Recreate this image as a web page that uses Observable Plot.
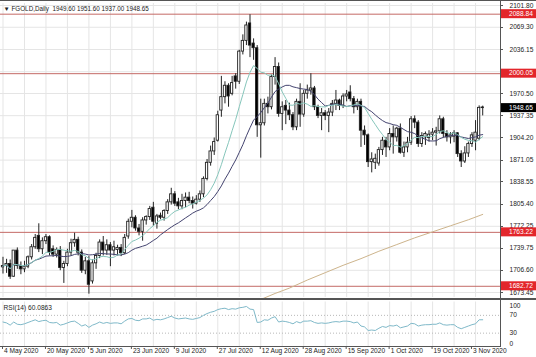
<!DOCTYPE html>
<html><head><meta charset="utf-8">
<script src="https://cdn.jsdelivr.net/npm/d3@7"></script>
<script src="https://cdn.jsdelivr.net/npm/@observablehq/plot@0.6"></script>
<style>
html,body{margin:0;padding:0;background:#fff;}
#chart{position:relative;width:536px;height:357px;overflow:hidden;background:#fff;}
#chart svg{position:absolute;left:0;}
.ln{position:absolute;background:#555;}
</style></head><body><div id="chart"></div>
<script>
// ---- data ----
const open  = [1711,1713,1716,1697,1736,1713,1708,1712,1726,1741,1758,1738,1750,1756,1738,1730,1737,1710,1716,1733,1747,1752,1733,1706,1720,1690,1717,1728,1748,1736,1744,1736,1737,1740,1732,1757,1779,1785,1769,1764,1781,1786,1800,1776,1788,1785,1795,1808,1820,1808,1802,1810,1815,1810,1806,1812,1820,1843,1867,1884,1900,1945,1965,1982,1970,1996,1988,2033,2049,2075,2045,2038,1923,1926,1955,1950,1995,2010,1940,1952,1945,1938,1920,1958,1939,1970,1975,1978,1950,1937,1941,1937,1942,1955,1960,1952,1966,1972,1962,1950,1958,1915,1908,1868,1867,1866,1886,1900,1890,1910,1905,1918,1882,1890,1897,1932,1927,1895,1905,1904,1909,1912,1914,1932,1910,1905,1906,1911,1880,1869,1881,1895,1900,1903,1949.60];
const high  = [1726,1723,1722,1735,1740,1719,1720,1728,1745,1760,1776,1755,1760,1758,1743,1740,1742,1720,1738,1753,1762,1756,1737,1726,1727,1722,1732,1752,1757,1752,1748,1750,1744,1745,1760,1783,1796,1788,1775,1785,1788,1802,1808,1790,1792,1797,1812,1829,1824,1814,1820,1822,1823,1816,1818,1825,1846,1872,1892,1904,1944,1996,1988,1985,1996,2000,2035,2058,2077,2088,2052,2042,1962,1962,1965,1998,2024,2016,1958,1960,1956,1942,1962,1985,1975,1983,2000,1981,1953,1948,1945,1948,1960,1975,1962,1970,1975,1982,1966,1962,1962,1922,1910,1882,1880,1890,1905,1905,1918,1922,1920,1925,1898,1905,1936,1937,1930,1912,1913,1915,1918,1920,1937,1935,1915,1912,1915,1912,1885,1891,1898,1912,1930,1952,1951.60];
const low   = [1701,1702,1693,1696,1708,1700,1703,1709,1722,1738,1733,1730,1745,1728,1726,1725,1706,1687,1712,1728,1741,1728,1702,1700,1671,1686,1708,1724,1728,1729,1712,1728,1728,1727,1730,1753,1770,1765,1758,1750,1774,1781,1772,1768,1782,1780,1790,1804,1802,1797,1797,1800,1806,1798,1804,1808,1815,1840,1862,1878,1898,1935,1955,1950,1967,1977,1984,2028,2042,2024,2020,1905,1874,1922,1940,1946,1983,1935,1915,1924,1930,1915,1915,1920,1935,1962,1968,1945,1933,1915,1930,1912,1936,1945,1945,1948,1958,1958,1940,1945,1890,1893,1860,1852,1857,1862,1878,1875,1885,1880,1898,1880,1875,1882,1893,1918,1890,1890,1893,1898,1900,1892,1910,1904,1898,1895,1897,1875,1860,1866,1875,1890,1885,1900,1937.00];
const close = [1713,1716,1697,1736,1713,1708,1712,1726,1741,1755,1738,1750,1756,1733,1730,1737,1710,1716,1733,1747,1752,1733,1706,1720,1685,1717,1728,1748,1736,1744,1736,1741,1740,1732,1755,1779,1785,1769,1764,1781,1786,1798,1779,1787,1785,1795,1808,1820,1806,1802,1810,1815,1810,1806,1812,1820,1843,1867,1884,1898,1938,1965,1982,1966,1986,1988,2033,2049,2072,2042,2038,1923,1926,1955,1950,1995,2010,1940,1950,1945,1938,1920,1958,1939,1970,1975,1978,1950,1937,1941,1937,1942,1955,1960,1952,1966,1969,1962,1950,1958,1915,1908,1868,1872,1873,1886,1900,1890,1910,1905,1918,1882,1890,1897,1932,1927,1895,1907,1910,1909,1912,1914,1932,1910,1905,1908,1911,1880,1869,1881,1895,1908,1912,1949,1948.65];
const rsi14 = [55,53,48,55,50,49,51,54,57,60,56,58,59,54,53,54,48,50,53,56,57,52,46,49,43,48,51,55,52,54,52,53,53,51,57,62,63,59,58,62,62,64,59,61,60,62,65,68,64,62,63,64,62,61,63,65,70,74,77,79,83,85,86,83,85,84,87,88,90,84,83,54,55,60,59,64,67,55,57,56,54,51,56,53,57,57,58,54,52,53,52,53,55,56,55,57,57,56,53,55,46,44,36,37,36,41,45,43,47,46,48,42,44,46,52,51,46,48,49,49,50,50,53,49,48,49,49,43,40,43,46,49,51,60,60.0863];
const ma200Bars = [72,76,80,85,90,95,100,105,110,115,120,125,130,134];
const ma200Vals = [1663,1672,1680,1692,1703,1714,1724,1735,1745,1755,1764,1773,1782,1790];
const levels = [2088.84, 2000.05, 1763.22, 1682.72];
const priceTicks = [2101.80,2069.30,2036.15,2003.00,1970.50,1937.35,1904.20,1871.05,1838.55,1805.40,1772.25,1739.75,1706.60,1673.45];
const hiddenTicks = [2003.00]; // covered by a level box in the reference
const dateLabels = ["4 May 2020","20 May 2020","5 Jun 2020","23 Jun 2020","9 Jul 2020","27 Jul 2020","12 Aug 2020","28 Aug 2020","15 Sep 2020","1 Oct 2020","19 Oct 2020","3 Nov 2020"];
const rsiTicks = [100,70,30,0];
const rsiLevels = [70,30];
const header = ["\u25BC FGOLD,Daily  1949.60 1951.60 1937.00 1948.65"];
const rsiTitle = ["RSI(14) 60.0863"];
const lastPrice = 1948.65;

// ---- build tables ----
const days = d3.utcDay.range(new Date(Date.UTC(2020,4,4)), new Date(Date.UTC(2020,10,7))).filter(d => d.getUTCDay() % 6 !== 0);
const bars = close.map((c,i)=>({i, date: days[i], o: open[i], h: high[i], l: low[i], c}));
const parse = d3.utcParse("%d %b %Y");
const labelRows = dateLabels.map(s => ({s, i: days.findIndex(d => +d === +parse(s))}));
const gridBars = d3.range(0, bars.length, 6);
const ma200 = ma200Bars.map((b,k)=>({i:b, v:ma200Vals[k]}));
const rsiRows = rsi14.map((v,i)=>({i, v}));
const shownTicks = priceTicks.filter(v => !hiddenTicks.includes(v));

const FONT = "Liberation Sans, Arial, sans-serif";
const XD = [-0.698, 138.97];
const txt = {fontFamily: FONT, fontSize: 6.6, fill: "#222"};

const main = Plot.plot({
  width: 536, height: 298,
  marginTop: 3, marginBottom: 1, marginLeft: 0, marginRight: 36,
  x: {domain: XD, axis: null},
  y: {domain: [1665.99, 2104.79], axis: null},
  style: {background: "transparent", overflow: "visible"},
  marks: [
    Plot.ruleX(gridBars, {stroke: "#e5e5e5"}),
    Plot.ruleY(priceTicks, {stroke: "#e5e5e5"}),
    Plot.ruleY(levels, {stroke: "#c46a66", strokeWidth: 1}),
    Plot.ruleX(bars, {x: "i", y1: "l", y2: "h", stroke: "#222", strokeWidth: 1}),
    Plot.rect(bars, {x1: d => d.i - 0.32, x2: d => d.i + 0.32, y1: "o", y2: "c",
      fill: d => d.c >= d.o ? "#fff" : "#000", stroke: "#222", strokeWidth: 0.9}),
    Plot.line(ma200, {x: "i", y: "v", stroke: "#cdb48c", strokeWidth: 1}),
    Plot.lineY(bars, Plot.windowY({k: 20, anchor: "end", reduce: "mean"}, {x: "i", y: "c", stroke: "#43436f", strokeWidth: 1})),
    Plot.lineY(bars, Plot.windowY({k: 10, anchor: "end", reduce: "mean"}, {x: "i", y: "c", stroke: "#86c6bb", strokeWidth: 1})),
    Plot.text(shownTicks, {y: d => d, frameAnchor: "right", dx: 9, textAnchor: "start", text: d => d.toFixed(2), ...txt}),
    Plot.text(header, {frameAnchor: "top-left", dx: 3, dy: 3, textAnchor: "start", lineAnchor: "top", text: d => d, ...txt, fontSize: 6.3})
  ]
});
main.style.top = "0px";

const ys = main.scale("y");
const gm = d3.select(main).append("g");
gm.selectAll("line.tk").data(shownTicks).join("line")
  .attr("x1", 500).attr("x2", 503).attr("y1", d => Math.round(ys.apply(d)) + 0.5).attr("y2", d => Math.round(ys.apply(d)) + 0.5)
  .attr("stroke", "#555");
const boxes = levels.map(v => ({v, fill: "#e3262b", color: "#fff"})).concat([{v: lastPrice, fill: "#000", color: "#fff"}]);
const bg = gm.selectAll("g.box").data(boxes).join("g").attr("transform", d => `translate(501,${ys.apply(d.v)})`);
bg.append("rect").attr("x", 0).attr("y", -4.5).attr("width", 35).attr("height", 9).attr("fill", d => d.fill);
bg.append("text").attr("x", 8).attr("y", 0).attr("dy", "0.35em").attr("text-anchor", "start").attr("fill", d => d.color)
  .attr("font-family", FONT).attr("font-size", 6.6).text(d => d.v.toFixed(2));

const rsiPlot = Plot.plot({
  width: 536, height: 57,
  marginTop: 1.5, marginBottom: 11, marginLeft: 0, marginRight: 36,
  x: {domain: XD, axis: null},
  y: {domain: [0, 100], axis: null},
  style: {background: "transparent", overflow: "visible"},
  marks: [
    Plot.ruleX(gridBars, {stroke: "#e5e5e5"}),
    Plot.ruleY(rsiLevels, {stroke: "#b8b8b8", strokeDasharray: "1,2"}),
    Plot.lineY(rsiRows, {x: "i", y: "v", stroke: "#7fb9c9", strokeWidth: 1}),
    Plot.text(rsiTitle, {frameAnchor: "top-left", dx: 3, dy: 3, textAnchor: "start", lineAnchor: "top", text: d => d, ...txt}),
    Plot.text(rsiTicks.filter(v => v === 70 || v === 30), {y: d => d, frameAnchor: "right", dx: 9, textAnchor: "start", text: d => String(d), ...txt}),
    Plot.text(rsiTicks.filter(v => v === 100), {y: d => d, frameAnchor: "right", dx: 9, dy: 3.5, textAnchor: "start", text: d => String(d), ...txt}),
    Plot.text(rsiTicks.filter(v => v === 0), {y: d => d, frameAnchor: "right", dx: 9, dy: -2.5, textAnchor: "start", text: d => String(d), ...txt}),
    Plot.text(labelRows, {x: "i", frameAnchor: "bottom", dy: 6.5, dx: 1, textAnchor: "start", text: "s", ...txt})
  ]
});
rsiPlot.style.top = "300px";

const chart = document.getElementById("chart");
chart.append(main, rsiPlot);
// frame lines (layout only)
const lines = [
  {l:0,t:0,w:536,h:1},
  {l:0,t:298,w:536,h:2},
  {l:0,t:346,w:501,h:1},
  {l:500,t:0,w:1,h:347}
];
for (const s of lines) {
  const d = document.createElement("div"); d.className = "ln";
  Object.assign(d.style, {left: s.l+"px", top: s.t+"px", width: s.w+"px", height: s.h+"px"});
  chart.append(d);
}
const xs = rsiPlot.scale("x");
d3.select(rsiPlot).append("g").selectAll("line").data(labelRows).join("line")
  .attr("x1", d => xs.apply(d.i)).attr("x2", d => xs.apply(d.i)).attr("y1", 46).attr("y2", 49).attr("stroke", "#555");
</script></body></html>
